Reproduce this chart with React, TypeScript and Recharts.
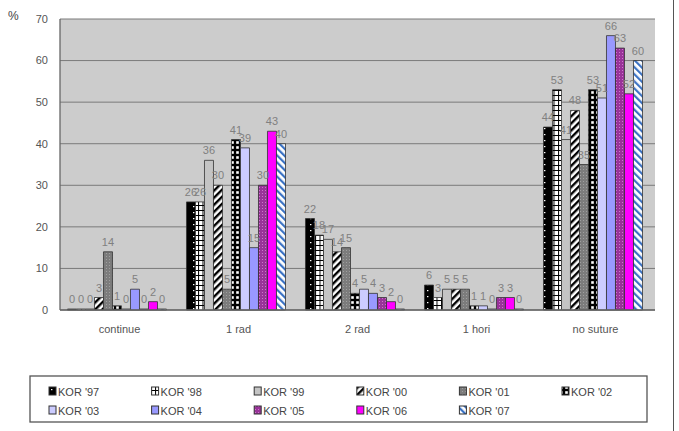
import { BarChart, Bar, XAxis, YAxis, CartesianGrid, LabelList } from 'recharts';

// suture type frequency (%) by survey year
const categories = ['continue', '1 rad', '2 rad', '1 hori', 'no suture'];
const kor97 = [0, 26, 22, 6, 44];
const kor98 = [0, 26, 18, 3, 53];
const kor99 = [0, 36, 17, 5, 41];
const kor00 = [3, 30, 14, 5, 48];
const kor01 = [14, 5, 15, 5, 35];
const kor02 = [1, 41, 4, 1, 53];
const kor03 = [0, 39, 5, 1, 51];
const kor04 = [5, 15, 4, 0, 66];
const kor05 = [0, 30, 3, 3, 63];
const kor06 = [2, 43, 2, 3, 52];
const kor07 = [0, 40, 0, 0, 60];
const seriesNames = ["KOR '97", "KOR '98", "KOR '99", "KOR '00", "KOR '01", "KOR '02", "KOR '03", "KOR '04", "KOR '05", "KOR '06", "KOR '07"];
const yTicks = [0, 10, 20, 30, 40, 50, 60, 70];

const seriesValues = [kor97, kor98, kor99, kor00, kor01, kor02, kor03, kor04, kor05, kor06, kor07];
const fills = [
  'url(#p97)', 'url(#p98)', '#c4c4c4', 'url(#p00)', 'url(#p01)', 'url(#p02)',
  '#ccccff', '#9999ff', 'url(#p05)', '#ff00ff', 'url(#p07)',
];

const keys = seriesNames.map((_, i) => `s${i}`);
const data = categories.map((name, ci) => {
  const row: Record<string, string | number> = { name };
  seriesValues.forEach((vals, si) => {
    row[keys[si]] = vals[ci];
  });
  return row;
});

const font = '"Liberation Sans", Arial, sans-serif';

function Patterns() {
  return (
    <svg width={0} height={0} style={{ position: 'absolute' }}>
      <defs>
        <pattern id="p97" width="9" height="6" patternUnits="userSpaceOnUse">
          <rect width="9" height="6" fill="#000" />
          <rect x="4" y="2" width="1.4" height="1.2" fill="#fff" />
        </pattern>
        <pattern id="p98" width="4.5" height="5" patternUnits="userSpaceOnUse">
          <rect width="4.5" height="5" fill="#fff" />
          <rect width="4.5" height="1" fill="#000" />
          <rect width="1" height="5" fill="#000" />
        </pattern>
        <pattern id="p00" width="5" height="5" patternUnits="userSpaceOnUse" patternTransform="rotate(45)">
          <rect width="5" height="5" fill="#fff" />
          <rect width="2.4" height="5" fill="#000" />
        </pattern>
        <pattern id="p01" width="3" height="3" patternUnits="userSpaceOnUse">
          <rect width="3" height="3" fill="#7c7c7c" />
          <rect x="1" y="1" width="1" height="1" fill="#a0a0a0" />
        </pattern>
        <pattern id="p02" width="5" height="5" patternUnits="userSpaceOnUse">
          <rect width="5" height="5" fill="#000" />
          <rect x="1.2" y="1.2" width="2.6" height="2.6" fill="#fff" />
        </pattern>
        <pattern id="p05" width="3" height="3" patternUnits="userSpaceOnUse">
          <rect width="3" height="3" fill="#993399" />
          <rect x="1" y="1" width="1" height="1" fill="#cc77cc" />
        </pattern>
        <pattern id="p07" width="5" height="5" patternUnits="userSpaceOnUse" patternTransform="rotate(-45)">
          <rect width="5" height="5" fill="#fff" />
          <rect width="2.2" height="5" fill="#3a72c4" />
        </pattern>
      </defs>
    </svg>
  );
}

function LegendBox() {
  const colW = 102.6;
  return (
    <svg width={619} height={48} style={{ position: 'absolute', left: 29, top: 375 }}>
      <rect x={1} y={1} width={617} height={46} fill="#fff" stroke="#555" strokeWidth={1.3} />
      {seriesNames.map((name, i) => {
        const col = i < 6 ? i : i - 6;
        const row = i < 6 ? 0 : 1;
        const x = 24 + col * colW;
        const y = 17 + row * 19;
        return (
          <g key={name}>
            <rect x={x - 4} y={y - 5} width={7} height={8} fill={fills[i]} stroke="#333" strokeWidth={1} />
            <text x={x + 5} y={y + 4} fontSize={11} fill="#444" fontFamily={font}>
              {name}
            </text>
          </g>
        );
      })}
    </svg>
  );
}

export default function App() {
  return (
    <div style={{ position: 'absolute', left: 0, top: 0, width: 679, height: 431, background: '#fff', fontFamily: font }}>
      <Patterns />
      <span style={{ position: 'absolute', left: 8, top: 9, fontSize: 12, color: '#444' }}>%</span>
      <div style={{ position: 'absolute', left: 673, top: 0, width: 1, height: 431, background: '#555' }} />
      <BarChart
        width={679}
        height={431}
        data={data}
        margin={{ top: 19, right: 24, bottom: 91, left: 0 }}
        barCategoryGap="6.3%"
        barGap={0}
      >
        <CartesianGrid vertical={false} stroke="#7a7a7a" fill="#cccccc" fillOpacity={1} />
        <XAxis xAxisId="top" orientation="top" dataKey="name" height={0} tick={false} tickLine={false} axisLine={{ stroke: '#666', strokeWidth: 1.3 }} />
        <YAxis yAxisId="right" orientation="right" width={0} tick={false} tickLine={false} axisLine={{ stroke: '#666', strokeWidth: 1.3 }} domain={[0, 70]} />
        <XAxis
          dataKey="name"
          height={30}
          tickLine={false}
          tickSize={6}
          tickMargin={9}
          axisLine={{ stroke: '#666', strokeWidth: 1.3 }}
          tick={{ fill: '#555', fontSize: 11, fontFamily: font }}
        />
        <YAxis
          width={60}
          domain={[0, 70]}
          ticks={yTicks}
          tickLine={false}
          tickSize={10}
          tickMargin={2}
          axisLine={{ stroke: '#666', strokeWidth: 1.3 }}
          tick={{ fill: '#555', fontSize: 11, fontFamily: font }}
        />
        {keys.map((k, i) => (
          <Bar
            key={k}
            dataKey={k}
            name={seriesNames[i]}
            fill={fills[i]}
            stroke="#333"
            strokeWidth={0.8}
            minPointSize={1}
            isAnimationActive={false}
          >
            <LabelList dataKey={k} position="top" offset={6} fill="#808080" fontSize={11} fontFamily={font} />
          </Bar>
        ))}
      </BarChart>
      <LegendBox />
    </div>
  );
}
